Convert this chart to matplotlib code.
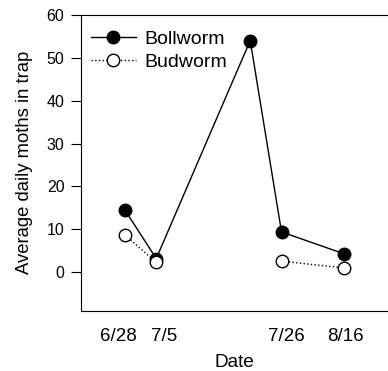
import numpy as np
import matplotlib
matplotlib.use("Agg")
import matplotlib.pyplot as plt

plt.rcParams['font.family'] = ['Liberation Sans', 'DejaVu Sans']

# positions along the date axis (categorical slots)
x_pos = [1, 2, 5, 6, 8]
bollworm = [14.5, 3.2, 54.0, 9.4, 4.3]
budworm = [8.7, 2.3, np.nan, 2.6, 1.0]
# date labels, slightly off the points as in the original
label_pos = [0.78, 2.25, 6.16, 8.03]
date_labels = ["6/28", "7/5", "7/26", "8/16"]

fig = plt.figure(figsize=(3.88, 3.71), dpi=100)
ax = fig.add_axes([0.209, 0.162, 0.791, 0.798])

ax.plot(x_pos, bollworm, "-o", color="black", lw=1.0, ms=9,
        mfc="black", mec="black", label="Bollworm")
ax.plot(x_pos, budworm, ":o", color="black", lw=1.0, ms=9,
        mfc="white", mec="black", label="Budworm")

ax.set_xlim(-0.4, 9.4)
ax.set_ylim(-9, 60)
ax.set_yticks(np.arange(0, 61, 10))
ax.set_xticks(label_pos)
ax.set_xticklabels(date_labels, fontsize=13.5)
ax.tick_params(axis="x", length=0, pad=12)
ax.tick_params(axis="y", length=7, width=0.8, labelsize=11.5, pad=5)
ax.spines["right"].set_visible(False)

ax.set_xlabel("Date", fontsize=13.7, labelpad=7)
ax.set_ylabel("Average daily moths in trap", fontsize=13.3, labelpad=10)

ax.legend(loc="upper left", bbox_to_anchor=(0.0, 0.982), frameon=False,
          fontsize=14, handlelength=2.3, handletextpad=0.45, borderpad=0.3,
          borderaxespad=0.2, labelspacing=0.3)

fig.savefig("out.png", dpi=100)
